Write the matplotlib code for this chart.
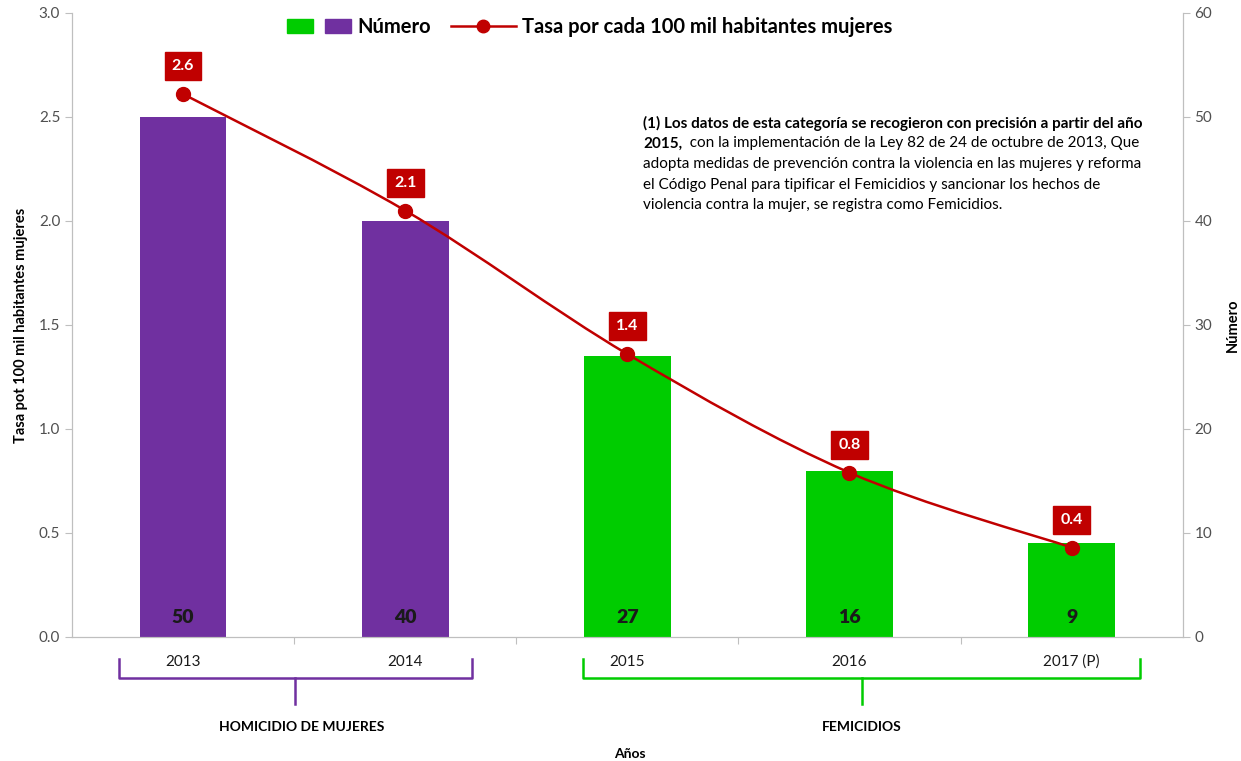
"""Homicidios y femicidios de mujeres: numero y tasa por 100 mil habitantes."""

import matplotlib.pyplot as plt
import numpy as np
from matplotlib.legend_handler import HandlerTuple
from matplotlib.lines import Line2D
from matplotlib.patches import Patch, PathPatch
from matplotlib.path import Path
from matplotlib.transforms import blended_transform_factory

plt.rcParams["font.family"] = ["Lato", "DejaVu Sans"]

years = ["2013", "2014", "2015", "2016", "2017 (P)"]
numero = [50, 40, 27, 16, 9]
tasa = [2.61, 2.05, 1.36, 0.79, 0.43]
tasa_labels = ["2.6", "2.1", "1.4", "0.8", "0.4"]
grupo = ["HOMICIDIO DE MUJERES", "HOMICIDIO DE MUJERES",
         "FEMICIDIOS", "FEMICIDIOS", "FEMICIDIOS"]

PURPLE = "#7030A0"
GREEN = "#00CC00"
RED = "#C00000"
GRAY = "#404040"
bar_colors = [PURPLE if g.startswith("HOMICIDIO") else GREEN for g in grupo]

fig = plt.figure(figsize=(12.41, 7.61), dpi=100)
ax = fig.add_axes([0.058, 0.163, 0.895, 0.820])
ax2 = ax.twinx()

x = np.arange(len(years))

# bars on the right axis (Numero)
ax2.bar(x, numero, width=0.39, color=bar_colors, zorder=2)
for xi, n in zip(x, numero):
    ax2.annotate(str(n), (xi, 0), xytext=(0, 14), textcoords="offset points",
                 ha="center", va="center", fontsize=14, fontweight="heavy",
                 color="#1a1a1a")

# smoothed rate line (Catmull-Rom as cubic Bezier segments)
pts = np.column_stack([x, tasa]).astype(float)
verts = [tuple(pts[0])]
codes = [Path.MOVETO]
for i in range(len(pts) - 1):
    p0 = pts[i - 1] if i > 0 else pts[i]
    p1, p2 = pts[i], pts[i + 1]
    p3 = pts[i + 2] if i + 2 < len(pts) else pts[i + 1]
    c1 = p1 + (p2 - p0) / 6
    c2 = p2 - (p3 - p1) / 6
    verts += [tuple(c1), tuple(c2), tuple(p2)]
    codes += [Path.CURVE4] * 3
ax.set_zorder(ax2.get_zorder() + 1)
ax.patch.set_visible(False)
ax.add_patch(PathPatch(Path(verts, codes), facecolor="none", edgecolor=RED,
                       lw=1.8, zorder=3))
ax.plot(x, tasa, "o", color=RED, ms=10, zorder=4)
for xi, t, lab in zip(x, tasa, tasa_labels):
    ax.annotate(lab, (xi, t), xytext=(0, 20), textcoords="offset points",
                ha="center", va="center", fontsize=11.5, fontweight="bold",
                color="white",
                bbox=dict(boxstyle="square,pad=0.45", fc=RED, ec=RED))

# axes
ax.set_xlim(-0.5, len(years) - 0.5)
ax.set_ylim(0, 3.0)
ax.set_yticks(np.arange(0, 3.01, 0.5))
ax.set_yticklabels([f"{v:.1f}" for v in np.arange(0, 3.01, 0.5)])
ax2.set_ylim(0, 60)
ax2.set_yticks(range(0, 61, 10))
ax.set_xticks(x[:-1] + 0.5)
ax.set_xticklabels([])
ax.tick_params(axis="x", length=5, color="#bfbfbf")
for a in (ax, ax2):
    a.tick_params(axis="y", length=5, color="#bfbfbf", labelsize=11,
                  labelcolor="#505050")
    a.spines["top"].set_visible(False)
    for s in ("left", "right", "bottom"):
        a.spines[s].set_color("#bfbfbf")
ax.set_ylabel("Tasa pot 100 mil habitantes mujeres", fontsize=10.5,
              fontweight="bold", labelpad=8)
ax2.set_ylabel("Número", fontsize=10.5, fontweight="bold", labelpad=10)

trans = blended_transform_factory(ax.transData, ax.transAxes)
for xi, y in zip(x, years):
    ax.text(xi, -0.04, y, transform=trans, ha="center", va="center",
            fontsize=11, color="#1a1a1a")


def brace(x0, x1, color):
    xm = (x0 + x1) / 2
    y_top, y_bar, y_stem = -0.036, -0.065, -0.108
    ax.plot([x0, x0, x1, x1], [y_top, y_bar, y_bar, y_top], color=color,
            lw=1.8, transform=trans, clip_on=False)
    ax.plot([xm, xm], [y_bar, y_stem], color=color, lw=1.8,
            transform=trans, clip_on=False)
    return xm


xm1 = brace(-0.29, 1.30, PURPLE)
xm2 = brace(1.80, 4.31, GREEN)
ax.text(xm1 + 0.03, -0.145, "HOMICIDIO DE MUJERES", transform=trans,
        ha="center", va="center", fontsize=10, fontweight="bold")
ax.text(xm2, -0.145, "FEMICIDIOS", transform=trans, ha="center",
        va="center", fontsize=10, fontweight="bold")
fig.text(630 / 1241, 1 - 754 / 761, "Años", ha="center", va="center",
         fontsize=10, fontweight="bold")

# note
nx, ny, dy = 643 / 1241, 1 - 123 / 761, 20.5 / 761
fig.text(nx, ny, "(1) Los datos de esta categoría se recogieron con precisión "
         "a partir del año", fontsize=11, fontweight="bold", va="center")
t2 = fig.text(nx, ny - dy, "2015,", fontsize=11, fontweight="bold",
              va="center")
ax.annotate("  con la implementación de la Ley 82 de 24 de octubre de 2013, Que",
            xy=(1, 0.5), xycoords=t2, va="center", fontsize=11)
note_rest = [
    "adopta medidas de prevención contra la violencia en las mujeres y reforma",
    "el Código Penal para tipificar el Femicidios y sancionar los hechos de",
    "violencia contra la mujer, se registra como Femicidios.",
]
for k, line in enumerate(note_rest):
    fig.text(nx, ny - dy * (k + 2), line, fontsize=11, va="center")

# legend
handles = [(Patch(color=GREEN), Patch(color=PURPLE)),
           Line2D([], [], color=RED, lw=1.8, marker="o", ms=9)]
fig.legend(handles, ["Número", "Tasa por cada 100 mil habitantes mujeres"],
           handler_map={tuple: HandlerTuple(ndivide=None, pad=0.6)},
           loc="center", bbox_to_anchor=(0.475, 0.965), ncol=2,
           frameon=False, prop=dict(size=14.5, weight="bold"),
           handlelength=3.2, columnspacing=1.0, handletextpad=0.3)

fig.savefig("out.png", dpi=100)
